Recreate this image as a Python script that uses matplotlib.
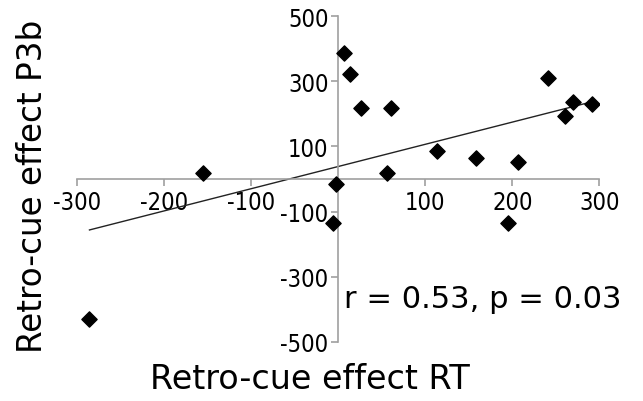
import numpy as np
import matplotlib.pyplot as plt

# data
rt_effect = [-286, -155, -6, -3, 6, 13, 26, 56, 61, 114, 158, 195, 207, 241, 261, 270, 292]
p3b_effect = [-429, 19, -134, -16, 388, 322, 217, 19, 217, 86, 63, -134, 53, 311, 193, 238, 229]
x_ticks = [-300, -200, -100, 100, 200, 300]
y_ticks = [-500, -300, -100, 100, 300, 500]
stat_text = "r = 0.53, p = 0.03"

x = np.array(rt_effect)
y = np.array(p3b_effect)

fig = plt.figure(figsize=(6.43, 4.02), dpi=100)
ax = fig.add_axes([0.1202, 0.1475, 0.8118, 0.8095])

ax.set_xlim(-300, 300)
ax.set_ylim(-500, 500)

# axes crossing at the origin
for s in ['top', 'right']:
    ax.spines[s].set_visible(False)
ax.spines['left'].set_position(('data', 0))
ax.spines['bottom'].set_position(('data', 0))
for s in ['left', 'bottom']:
    ax.spines[s].set_color('#a0a0a0')
    ax.spines[s].set_linewidth(1.2)

ax.set_xticks(x_ticks)
ax.set_yticks(y_ticks)
ax.set_xticklabels([str(v) for v in x_ticks])
ax.set_yticklabels([str(v) for v in y_ticks])
ax.tick_params(axis='both', colors='#a0a0a0', labelcolor='black',
               length=5, width=1.2, direction='out')
ax.tick_params(axis='x', pad=3)
ax.tick_params(axis='y', pad=2)
for lab in ax.get_xticklabels() + ax.get_yticklabels():
    lab.set_fontsize(17)
    lab.set_fontstretch('condensed')

# linear trend line over the data range
k, b = np.polyfit(x, y, 1)
xs = np.array([x.min(), x.max()])
ax.plot(xs, k * xs + b, color='#222222', lw=1.0, zorder=2)

ax.scatter(x, y, marker='D', s=60, color='black', zorder=3)

ax.text(7, -368, stat_text, fontsize=22, ha='left', va='center')

fig.text(0.482, 0.055, "Retro-cue effect RT", fontsize=24, ha='center', va='center')
fig.text(0.05, 0.537, "Retro-cue effect P3b", fontsize=23.5, ha='center', va='center',
         rotation=90)

fig.savefig('out.png', dpi=100)
